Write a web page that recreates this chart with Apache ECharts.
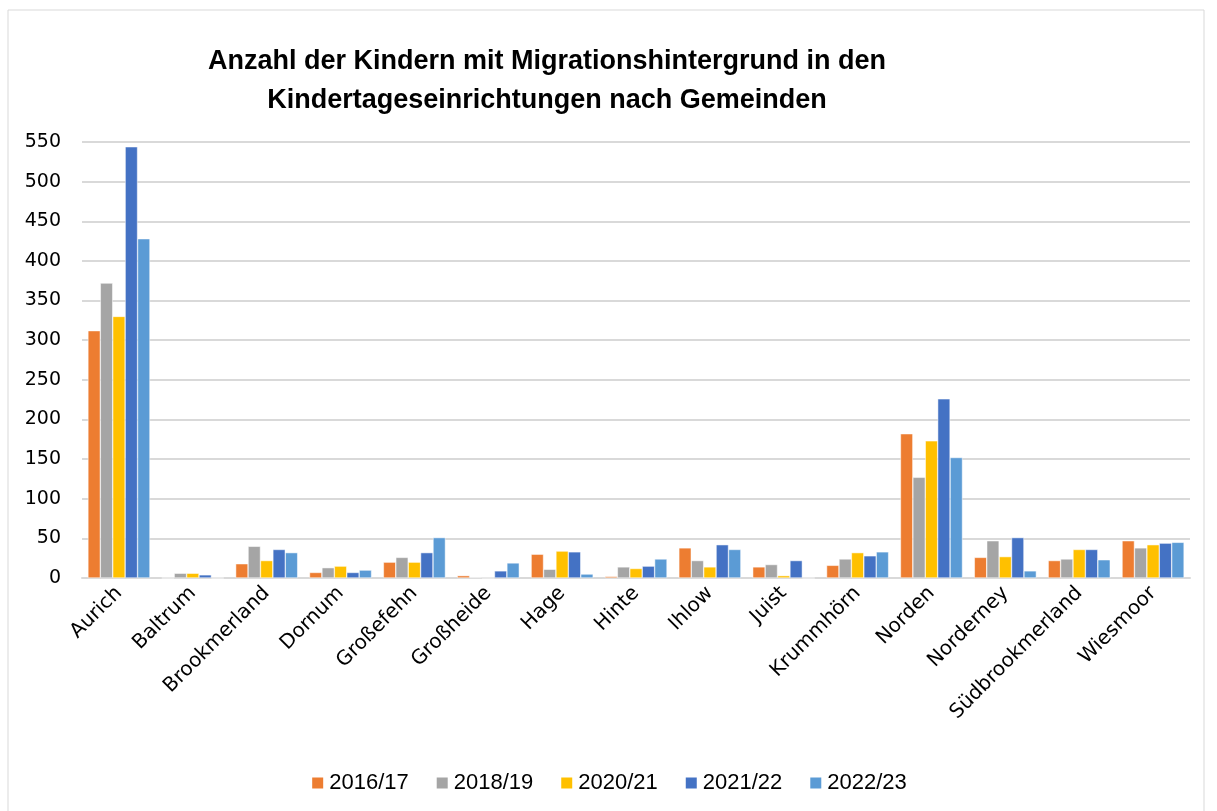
<!DOCTYPE html>
<html>
<head>
<meta charset="utf-8">
<script src="https://cdn.jsdelivr.net/npm/echarts@6/dist/echarts.min.js"></script>
<style>
    html, body { margin: 0; padding: 0; background: #fff; }
    #main { width: 1217px; height: 811px; }
</style>
</head>
<body>
<div id="main"></div>
<script>
    var gemeinden = ['Aurich', 'Baltrum', 'Brookmerland', 'Dornum', 'Großefehn', 'Großheide', 'Hage', 'Hinte',
        'Ihlow', 'Juist', 'Krummhörn', 'Norden', 'Norderney', 'Südbrookmerland', 'Wiesmoor'];
    var jahre = ['2016/17', '2018/19', '2020/21', '2021/22', '2022/23'];
    var farben = ['#ED7D31', '#A5A5A5', '#FFC000', '#4472C4', '#5B9BD5'];

    var w2016 = [312, 0, 18, 7, 20, 3, 30, 2, 38, 14, 16, 182, 26, 22, 47];
    var w2018 = [372, 6, 40, 13, 26, 1, 11, 14, 22, 17, 24, 127, 47, 24, 38];
    var w2020 = [330, 6, 22, 15, 20, 0, 34, 12, 14, 3, 32, 173, 27, 36, 42];
    var w2021 = [544, 4, 36, 7, 32, 9, 33, 15, 42, 22, 28, 226, 51, 36, 44];
    var w2022 = [428, 0, 32, 10, 51, 19, 5, 24, 36, 0, 33, 152, 9, 23, 45];
    var werte = [w2016, w2018, w2020, w2021, w2022];

    var chart = echarts.init(document.getElementById('main'));
    window.addEventListener('resize', function () {
        chart.resize();
    });

    chart.setOption({
        animation: false,
        color: farben,
        title: {
            text: 'Anzahl der Kindern mit Migrationshintergrund in den\nKindertageseinrichtungen nach Gemeinden',
            left: 542,
            top: 37,
            textAlign: 'center',
            textStyle: {
                fontFamily: 'Liberation Sans',
                fontWeight: 'bold',
                fontSize: 27,
                lineHeight: 39,
                color: '#000'
            }
        },
        graphic: [{
            type: 'rect',
            shape: {x: 8, y: 10, width: 1196, height: 830},
            style: {fill: 'none', stroke: '#d9d9d9', lineWidth: 1}
        }],
        legend: {
            bottom: 12,
            left: 'center',
            itemWidth: 13,
            itemHeight: 13,
            itemGap: 26,
            icon: 'rect',
            textStyle: {fontFamily: 'Liberation Sans', fontSize: 22, color: '#000'},
            data: jahre
        },
        grid: {left: 82, right: 27, top: 142, bottom: 233},
        xAxis: {
            type: 'category',
            data: gemeinden,
            axisTick: {show: false},
            axisLine: {lineStyle: {color: '#d9d9d9', width: 2}},
            axisLabel: {
                rotate: 45,
                interval: 0,
                margin: 12,
                fontFamily: 'DejaVu Sans',
                fontSize: 20,
                color: '#000'
            }
        },
        yAxis: {
            type: 'value',
            min: 0,
            max: 550,
            interval: 50,
            axisLine: {show: false},
            axisTick: {show: false},
            splitLine: {lineStyle: {color: '#d9d9d9', width: 2}},
            axisLabel: {fontFamily: 'DejaVu Sans', fontSize: 19, color: '#000', margin: 21}
        },
        series: jahre.map(function (jahr, i) {
            return {
                name: jahr,
                type: 'bar',
                data: werte[i],
                barGap: '0%',
                barCategoryGap: '16%',
                itemStyle: {borderColor: '#fff', borderWidth: 0.5}
            };
        })
    });
</script>
</body>
</html>
